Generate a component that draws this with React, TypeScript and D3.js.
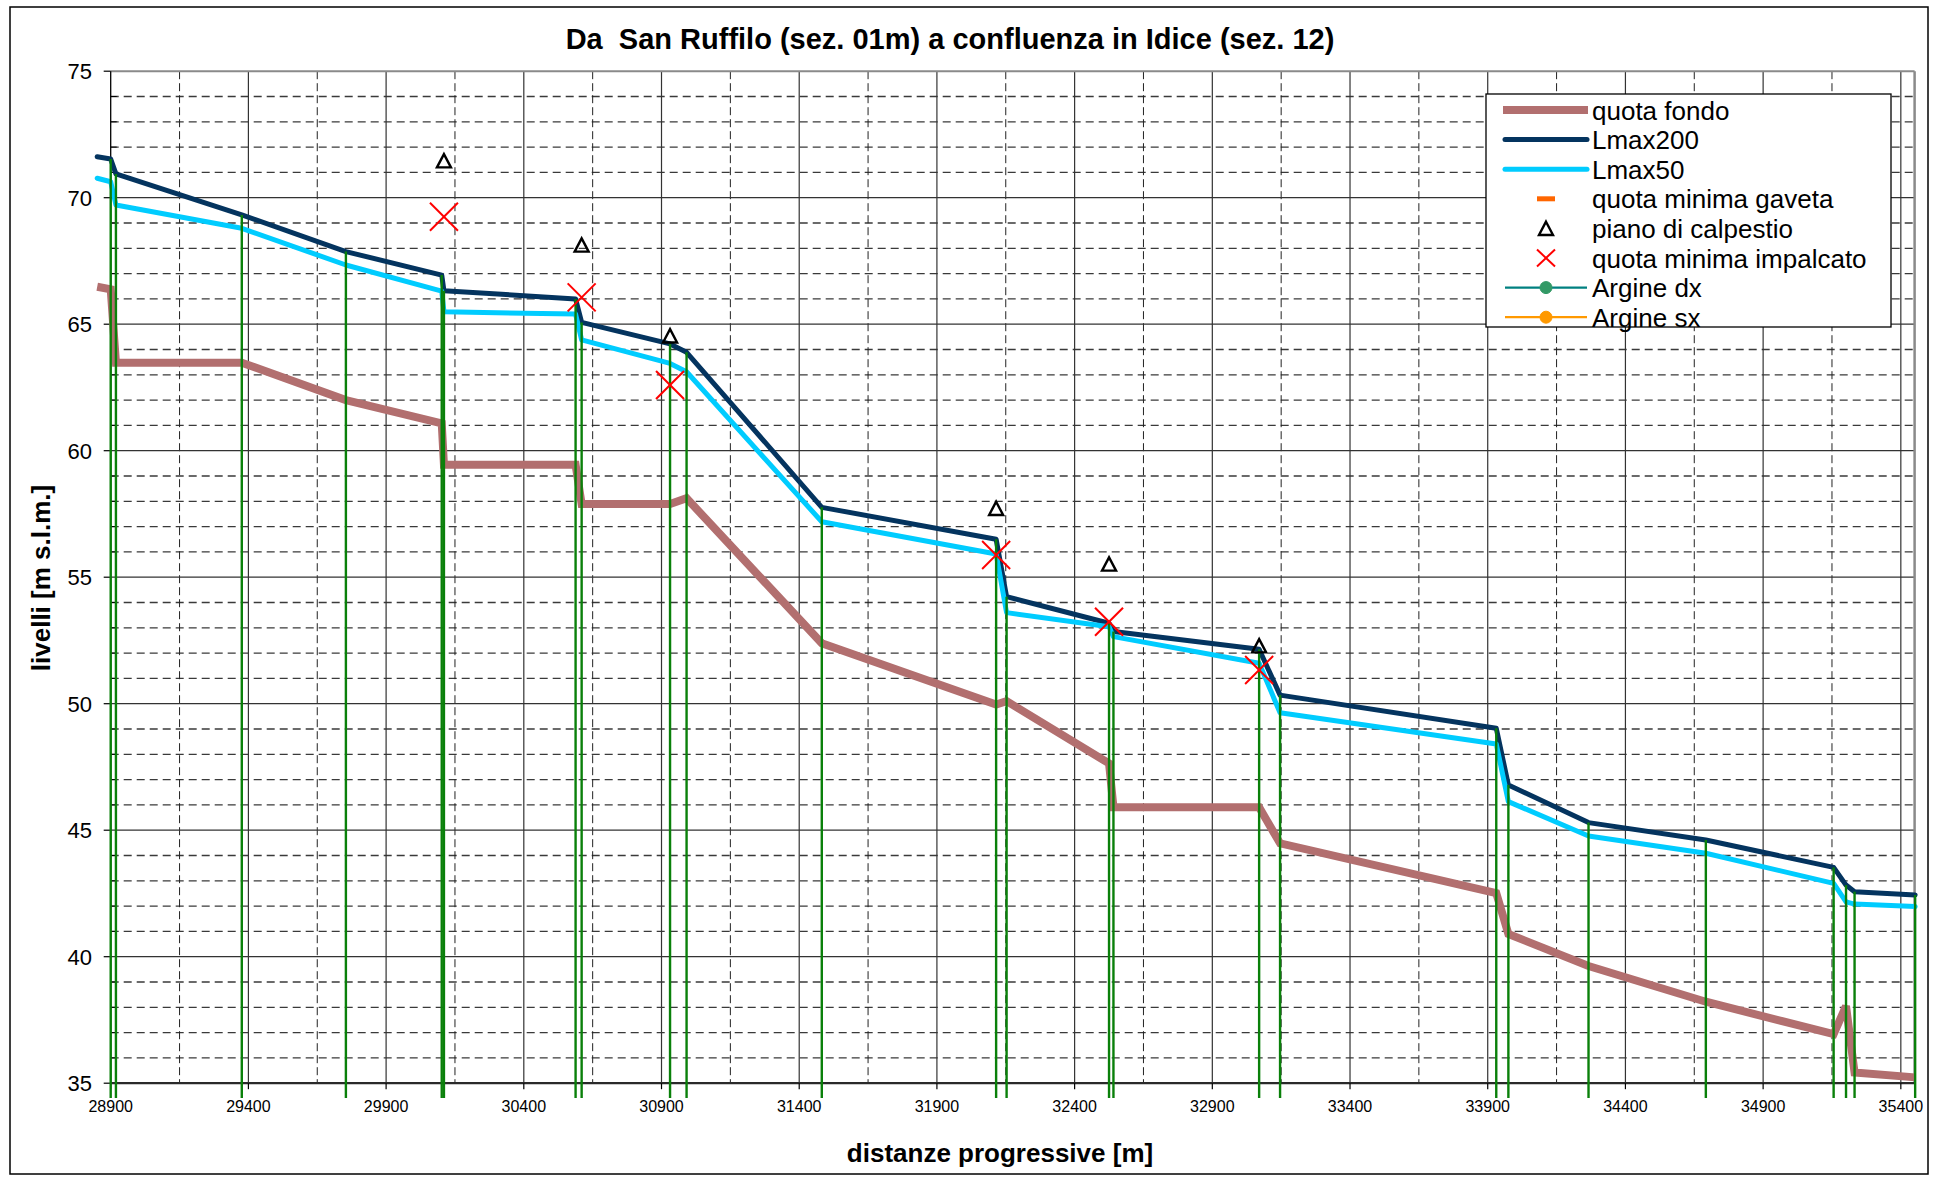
import React from 'react';
import * as d3 from 'd3';

// ---- data ----
const stations = [28851, 28900, 28919, 29376, 29754, 30102, 30110, 30588, 30610, 30931, 30991, 31482, 32115, 32153, 32525, 32541, 33070, 33146, 33931, 33975, 34266, 34692, 35156, 35201, 35232, 35452];
const quotaFondo = [66.48, 66.38, 63.48, 63.48, 62.0, 61.08, 59.44, 59.44, 57.89, 57.89, 58.12, 52.39, 49.97, 50.1, 47.64, 45.91, 45.91, 44.48, 42.51, 40.9, 39.63, 38.22, 36.94, 38.05, 35.42, 35.23];
const lmax200 = [71.62, 71.53, 70.94, 69.32, 67.87, 66.94, 66.32, 66.0, 65.07, 64.22, 63.89, 57.76, 56.5, 54.23, 53.18, 52.85, 52.15, 50.34, 49.03, 46.79, 45.3, 44.61, 43.53, 42.83, 42.57, 42.44];
const lmax50 = [70.77, 70.63, 69.71, 68.79, 67.34, 66.31, 65.49, 65.4, 64.38, 63.45, 63.12, 57.19, 55.92, 53.6, 53.04, 52.65, 51.6, 49.64, 48.41, 46.13, 44.77, 44.09, 42.9, 42.17, 42.08, 41.98];
const calpestioX = [30110, 30610, 30931, 32115, 32525, 33070];
const calpestioY = [71.42, 68.09, 64.5, 57.68, 55.48, 52.25];
const impalcatoX = [30110, 30610, 30931, 32115, 32525, 33070];
const impalcatoY = [69.25, 66.06, 62.6, 55.88, 53.24, 51.33];
const xTickValues = [28900, 29400, 29900, 30400, 30900, 31400, 31900, 32400, 32900, 33400, 33900, 34400, 34900, 35400];
const xMinorValues = [29150, 29650, 30150, 30650, 31150, 31650, 32150, 32650, 33150, 33650, 34150, 34650, 35150];
const yTickValues = [35, 40, 45, 50, 55, 60, 65, 70, 75];
const yMinorValues = [36, 37, 38, 39, 41, 42, 43, 44, 46, 47, 48, 49, 51, 52, 53, 54, 56, 57, 58, 59, 61, 62, 63, 64, 66, 67, 68, 69, 71, 72, 73, 74];
const legendLabels = ['quota fondo', 'Lmax200', 'Lmax50', 'quota minima gaveta', 'piano di calpestio', 'quota minima impalcato', 'Argine dx', 'Argine sx'];

const FONT = 'Liberation Sans, Arial, Helvetica, sans-serif';
const C_FONDO = '#B26F6F';
const C_L200 = '#04345F';
const C_L50 = '#00CCFF';
const C_GREEN = '#0A800A';

export default function App() {
  const x = d3.scaleLinear().domain([28900, 35450]).range([110.7, 1914.6]);
  const y = d3.scaleLinear().domain([35, 75]).range([1083.2, 71.2]);
  const [x0, x1] = x.range();
  const [yb, yt] = y.range();
  const mkLine = (vals: number[]) =>
    d3.line<number>().x((_, i) => x(stations[i])).y((d) => y(d))(vals) || '';

  const tri = (cx: number, cy: number, s: number) =>
    `M${cx},${cy - s * 0.55} L${cx + s * 0.5},${cy + s * 0.4} L${cx - s * 0.5},${cy + s * 0.4} Z`;

  const lgX = 1486, lgY = 94, lgW = 405, lgH = 233;
  const rowY = (i: number) => 110 + i * 29.6;
  const sampleX0 = 1505, sampleX1 = 1587, markX = 1546, textX = 1592;

  return (
    <svg width={1944} height={1177} style={{ position: 'absolute', left: 0, top: 0, background: '#fff' }} fontFamily={FONT}>
      <rect x={0} y={0} width={1944} height={1177} fill="#fff" />
      <rect x={10} y={7} width={1918} height={1167} fill="#fff" stroke="#000" strokeWidth={1.5} />

      {/* minor grid */}
      {yMinorValues.map((v) => (
        <line key={'hy' + v} x1={x0} x2={x1} y1={y(v)} y2={y(v)} stroke="#3a3a3a" strokeWidth={1.3} strokeDasharray="8,5" />
      ))}
      {xMinorValues.map((v) => (
        <line key={'vx' + v} x1={x(v)} x2={x(v)} y1={yt} y2={yb} stroke="#222" strokeWidth={1} strokeDasharray="8,4" />
      ))}
      {/* major grid */}
      {yTickValues.filter((v) => v !== 35 && v !== 75).map((v) => (
        <line key={'Hy' + v} x1={x0} x2={x1} y1={y(v)} y2={y(v)} stroke="#333" strokeWidth={1.2} />
      ))}
      {xTickValues.filter((v) => v !== 28900).map((v) => (
        <line key={'Vx' + v} x1={x(v)} x2={x(v)} y1={yt} y2={yb} stroke="#333" strokeWidth={1.2} />
      ))}
      {/* plot border */}
      <line x1={x0} x2={x1} y1={yt} y2={yt} stroke="#8a8a8a" strokeWidth={2} />
      <line x1={x1} x2={x1} y1={yt} y2={yb} stroke="#8a8a8a" strokeWidth={2.5} />

      {/* axes */}
      <line x1={x0} x2={x0} y1={yt} y2={yb} stroke="#000" strokeWidth={1.3} />
      <line x1={x0} x2={x1} y1={yb} y2={yb} stroke="#2a2a2a" strokeWidth={2.2} />
      {yTickValues.map((v) => (
        <line key={'ty' + v} x1={x0 - 7} x2={x0} y1={y(v)} y2={y(v)} stroke="#000" strokeWidth={1.2} />
      ))}
      {yMinorValues.map((v) => (
        <line key={'tmy' + v} x1={x0} x2={x0 + 6} y1={y(v)} y2={y(v)} stroke="#000" strokeWidth={1} />
      ))}
      {xTickValues.map((v) => (
        <line key={'tx' + v} x1={x(v)} x2={x(v)} y1={yb} y2={yb + 6} stroke="#000" strokeWidth={1.2} />
      ))}
      {yTickValues.map((v) => (
        <text key={'ly' + v} x={92} y={y(v)} dy="0.36em" textAnchor="end" fontSize={22} fill="#000">{v}</text>
      ))}
      {xTickValues.map((v) => (
        <text key={'lx' + v} x={x(v)} y={1112} textAnchor="middle" fontSize={16} fill="#000">{v}</text>
      ))}

      {/* series lines */}
      <path d={mkLine(quotaFondo)} fill="none" stroke={C_FONDO} strokeWidth={8} strokeLinejoin="miter" strokeMiterlimit={3} />
      <path d={mkLine(lmax200)} fill="none" stroke={C_L200} strokeWidth={5} strokeLinejoin="round" strokeLinecap="round" />
      <path d={mkLine(lmax50)} fill="none" stroke={C_L50} strokeWidth={5} strokeLinejoin="round" strokeLinecap="round" />

      {/* section verticals */}
      {stations.map((s, i) => (i === 0 ? null : (
        <line key={'g' + i} x1={x(s)} x2={x(s)} y1={1098} y2={y(lmax200[i])} stroke={C_GREEN} strokeWidth={2.4} />
      )))}

      {/* markers */}
      {calpestioX.map((v, i) => (
        <path key={'tr' + i} d={tri(x(v), y(calpestioY[i]), 14)} fill="none" stroke="#000" strokeWidth={2.4} strokeLinejoin="miter" />
      ))}
      {impalcatoX.map((v, i) => {
        const cx = x(v), cy = y(impalcatoY[i]), h = 14;
        return (
          <g key={'im' + i} stroke="#FF0000" strokeWidth={2}>
            <line x1={cx - h} y1={cy - h} x2={cx + h} y2={cy + h} />
            <line x1={cx - h} y1={cy + h} x2={cx + h} y2={cy - h} />
          </g>
        );
      })}

      {/* legend */}
      <rect x={lgX} y={lgY} width={lgW} height={lgH} fill="#fff" stroke="#000" strokeWidth={1.3} />
      <line x1={sampleX0 - 2} x2={sampleX1 + 1} y1={rowY(0)} y2={rowY(0)} stroke={C_FONDO} strokeWidth={8} />
      <line x1={sampleX0} x2={sampleX1} y1={rowY(1)} y2={rowY(1)} stroke={C_L200} strokeWidth={5} strokeLinecap="round" />
      <line x1={sampleX0} x2={sampleX1} y1={rowY(2)} y2={rowY(2)} stroke={C_L50} strokeWidth={5} strokeLinecap="round" />
      <line x1={markX - 9} x2={markX + 9} y1={rowY(3)} y2={rowY(3)} stroke="#FF6600" strokeWidth={5} />
      <path d={tri(markX, rowY(4) + 1, 14)} fill="none" stroke="#000" strokeWidth={2.4} />
      <g stroke="#FF0000" strokeWidth={2}>
        <line x1={markX - 9} y1={rowY(5) - 8.5} x2={markX + 9} y2={rowY(5) + 8.5} />
        <line x1={markX - 9} y1={rowY(5) + 8.5} x2={markX + 9} y2={rowY(5) - 8.5} />
      </g>
      <line x1={sampleX0} x2={sampleX1} y1={rowY(6)} y2={rowY(6)} stroke="#008080" strokeWidth={2.2} />
      <circle cx={markX} cy={rowY(6)} r={6} fill="#339966" stroke="#339966" />
      <line x1={sampleX0} x2={sampleX1} y1={rowY(7)} y2={rowY(7)} stroke="#FF9900" strokeWidth={2.2} />
      <circle cx={markX} cy={rowY(7)} r={6} fill="#FF9900" stroke="#FF9900" />
      {legendLabels.map((t, i) => (
        <text key={'lg' + i} x={textX} y={rowY(i) + 9.5} fontSize={26} fill="#000">{t}</text>
      ))}

      {/* titles */}
      <text x={950} y={48.5} textAnchor="middle" fontSize={29} fontWeight="bold" fill="#000" style={{ whiteSpace: 'pre' }} xmlSpace="preserve">{'Da  San Ruffilo (sez. 01m) a confluenza in Idice (sez. 12)'}</text>
      <text transform="translate(50,578) rotate(-90)" textAnchor="middle" fontSize={26} fontWeight="bold" fill="#000">livelli [m s.l.m.]</text>
      <text x={1000} y={1162} textAnchor="middle" fontSize={26} fontWeight="bold" fill="#000">distanze progressive [m]</text>
    </svg>
  );
}
